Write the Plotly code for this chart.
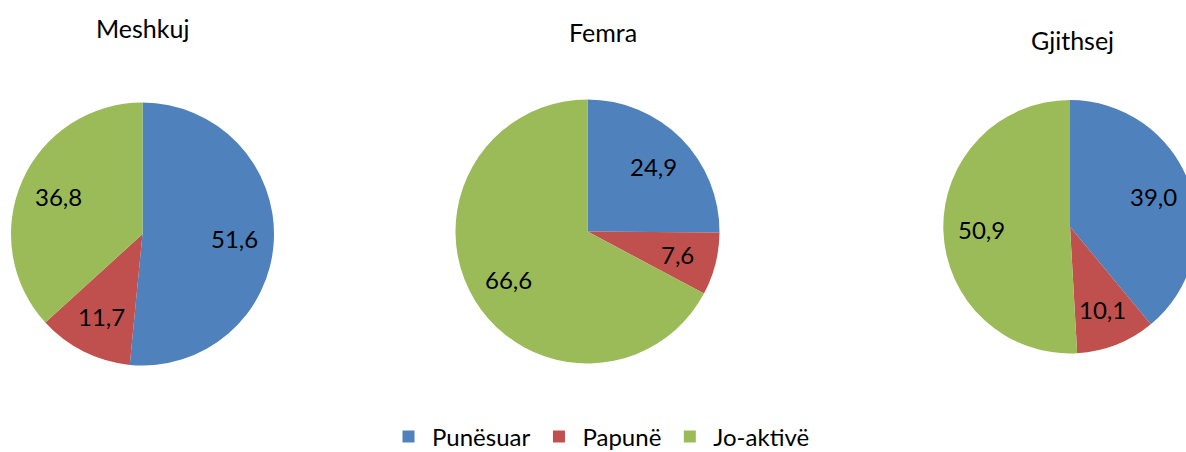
import math

import plotly.graph_objects as go

# Shares (%) by labour market status
categories = ["Punësuar", "Papunë", "Jo-aktivë"]
groups = ["Meshkuj", "Femra", "Gjithsej"]
meshkuj = [51.6, 11.7, 36.8]
femra = [24.9, 7.6, 66.6]
gjithsej = [39.0, 10.1, 50.9]
colors = ["#4F81BD", "#C0504D", "#9BBB59"]

# the figure is drawn a bit larger than the 1186x452 view and clipped by its
# wrapper, so the last pie is cut at the right edge like in the original
VIEW_W, VIEW_H = 1186, 452
W, H = 1198, 466
FONT = "Lato, Calibri, Carlito, sans-serif"
LABEL_R = 0.7  # data labels sit at 70% of the radius, on the slice bisector


def px(x, y):
    """Pixel in the view (y from top) -> paper fractions."""
    return x / W, 1 - y / H


def pie_domain(cx, cy, r):
    x0, y1 = px(cx - r, cy - r)
    x1, y0 = px(cx + r, cy + r)
    return dict(x=[max(0.0, x0), min(1.0, x1)], y=[max(0.0, y0), min(1.0, y1)])


fig = go.Figure()
pies = [
    (meshkuj, (142.5, 234, 131.5)),
    (femra, (587.5, 231.5, 132)),
    (gjithsej, (1070, 226.7, 126.7)),
]
for i, (vals, (cx, cy, r)) in enumerate(pies):
    fig.add_trace(
        go.Pie(
            labels=categories,
            values=vals,
            name=groups[i],
            sort=False,
            direction="clockwise",
            rotation=0,
            marker=dict(colors=colors, line=dict(width=0)),
            textinfo="none",
            hoverinfo="label+value",
            domain=pie_domain(cx, cy, r),
            showlegend=(i == 0),
        )
    )
    # data labels along each slice's bisector
    total = sum(vals)
    cum = 0.0
    for v in vals:
        mid = math.radians((cum + v / 2) / total * 360)
        cum += v
        lx, ly = px(cx + LABEL_R * r * math.sin(mid), cy - LABEL_R * r * math.cos(mid))
        fig.add_annotation(
            text=f"{v:.1f}".replace(".", ","), x=lx, y=ly,
            xref="paper", yref="paper", showarrow=False,
            xanchor="center", yanchor="middle",
            font=dict(family=FONT, size=24, color="black"),
        )

# pie titles
title_pos = [(142, 28), (603, 32), (1072.5, 40)]
for name, (x, y) in zip(groups, title_pos):
    tx, ty = px(x, y)
    fig.add_annotation(
        text=name, x=tx, y=ty, xref="paper", yref="paper",
        showarrow=False, xanchor="center", yanchor="middle",
        font=dict(family=FONT, size=25, color="black"),
    )

leg_x, leg_y = px(600, 437)
fig.update_layout(
    width=W,
    height=H,
    margin=dict(l=0, r=0, t=0, b=0),
    paper_bgcolor="white",
    plot_bgcolor="white",
    legend=dict(
        orientation="h",
        x=leg_x,
        xanchor="center",
        y=leg_y,
        yanchor="middle",
        font=dict(family=FONT, size=24, color="black"),
        itemwidth=37,
    ),
)

# no page margin; the wrapper div clips the figure to the view size
clip_js = (
    "document.body.style.margin='0';"
    "document.documentElement.style.overflow='hidden';"
    "var box=document.getElementById('{plot_id}').parentElement;"
    f"box.style.width='{VIEW_W}px';box.style.height='{VIEW_H}px';"
    "box.style.overflow='hidden';"
)
fig.write_html("out.html", post_script=clip_js, config={"displayModeBar": False})
